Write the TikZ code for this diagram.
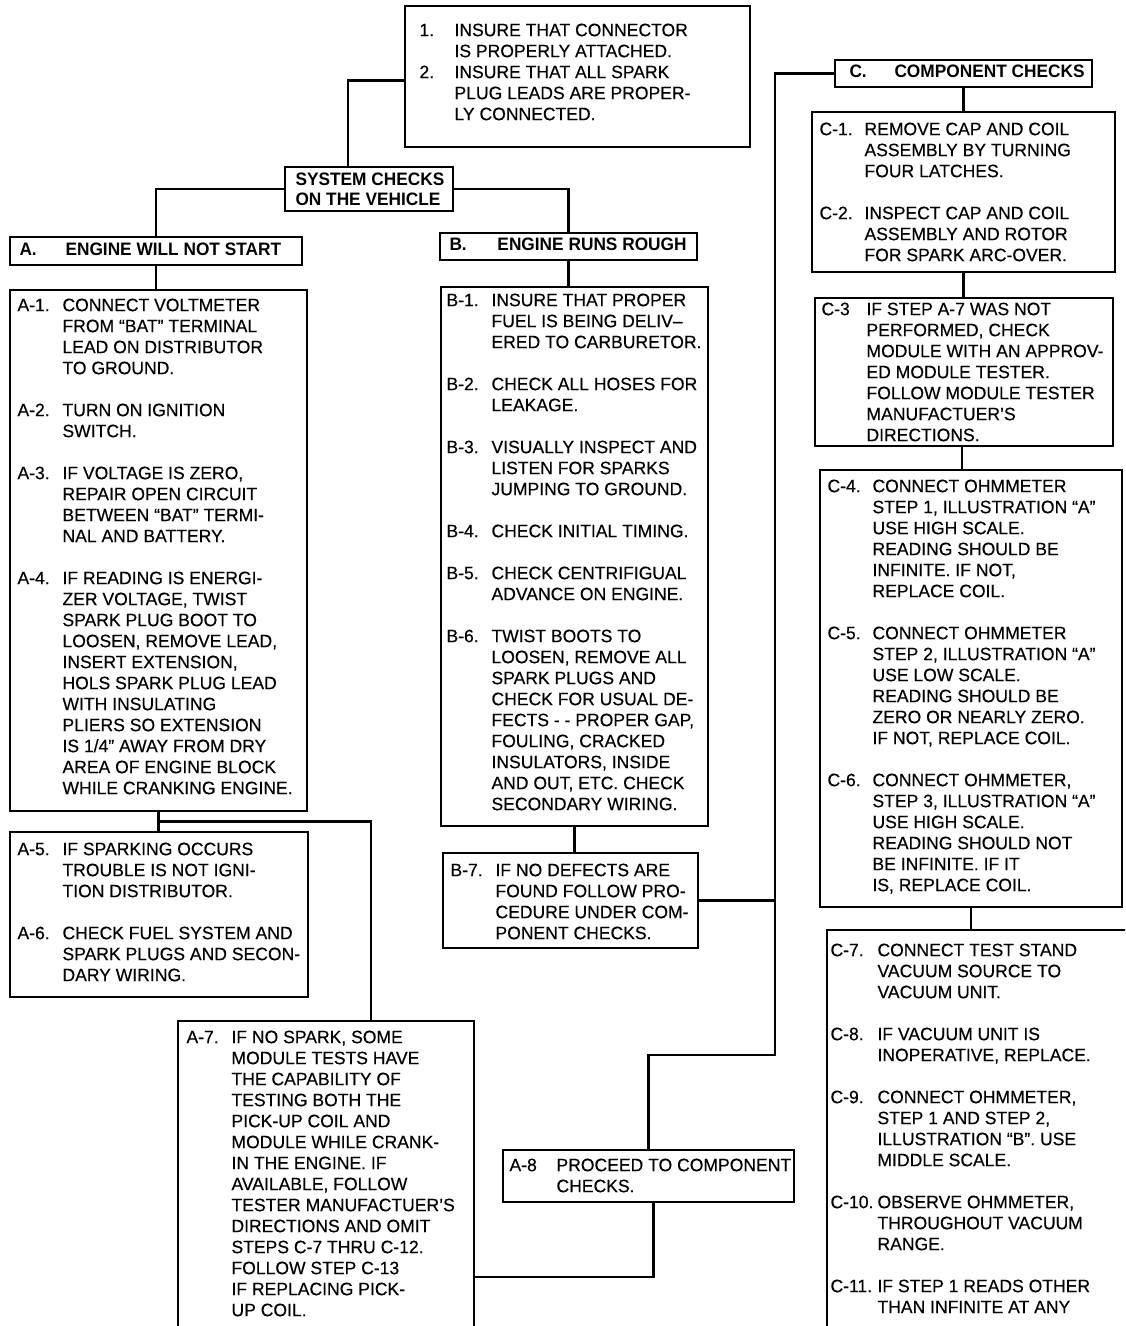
\documentclass[tikz,border=0pt]{standalone}
\usepackage{fontspec}
\setmainfont{Liberation Sans}[FakeStretch=0.975, FakeBold=0.35, BoldFeatures={FakeBold=0, FakeStretch=0.96}]
\usetikzlibrary{fit,calc}
\newcommand\steps[1]{\begin{tabular}{@{}p{22.5pt}@{}l@{}}#1\end{tabular}}
\newcommand\stepsn[1]{\begin{tabular}{@{}p{17.5pt}@{}l@{}}#1\end{tabular}}
\begin{document}
\begin{tikzpicture}[x=0.5pt,y=-0.5pt,
  box/.style={draw, line width=0.9pt, inner sep=0pt},
  wire/.style={line width=1.3pt},
  txt/.style={anchor=north west, inner sep=0pt, font=\fontsize{9}{10.5}\selectfont},
  hdr/.style={anchor=west, inner sep=0pt, font=\fontsize{9}{10.5}\selectfont\bfseries}]
\useasboundingbox (0,0) rectangle (1125,1326);
\clip (0,0) rectangle (1125,1326);
\fill[white] (0,0) rectangle (1125,1326);

% ---------- boxes ----------
\node[box, fit={(405,6) (750,147)}] (b1) {};
\node[box, fit={(285,167) (453,211)}] (sys) {};
\node[box, fit={(10,237) (302,265)}] (hA) {};
\node[box, fit={(440,233) (697,260)}] (hB) {};
\node[box, fit={(835,60) (1092,87)}] (hC) {};
\node[box, fit={(10,290) (307,811)}] (bA) {};
\node[box, fit={(10,832) (308,997)}] (bA5) {};
\node[box, fit={(178,1021) (474,1345)}] (bA7) {};
\node[box, fit={(503,1150) (794,1202)}] (bA8) {};
\node[box, fit={(441,287) (708,826)}] (bB) {};
\node[box, fit={(443,853) (698,948)}] (bB7) {};
\node[box, fit={(812,112) (1115,272)}] (bC1) {};
\node[box, fit={(815,298) (1113,446)}] (bC3) {};
\node[box, fit={(820,470) (1122,907)}] (bC4) {};
\node[box, fit={(827,930) (1140,1345)}] (bC7) {};

% ---------- texts ----------
\node[txt] (t1) at ([shift={(15,16)}]b1.north west) {\stepsn{%
1. & INSURE THAT CONNECTOR\\
   & IS PROPERLY ATTACHED.\\
2. & INSURE THAT ALL SPARK\\
   & PLUG LEADS ARE PROPER-\\
   & LY CONNECTED.}};

\node[anchor=west, inner sep=0pt, align=left, font=\fontsize{9}{10}\selectfont\bfseries]
  (tsys) at ([xshift=5.5pt]sys.west) {SYSTEM CHECKS\\ON THE VEHICLE};

\node[hdr] (thA) at ([xshift=5pt]hA.west) {\begin{tabular}{@{}p{23pt}@{}l@{}}A. & ENGINE WILL NOT START\end{tabular}};
\node[hdr] (thB) at ([xshift=5pt]hB.west) {\begin{tabular}{@{}p{24pt}@{}l@{}}B. & ENGINE RUNS ROUGH\end{tabular}};
\node[hdr] (thC) at ([xshift=7.5pt]hC.west) {\begin{tabular}{@{}p{22.5pt}@{}l@{}}C. & COMPONENT CHECKS\end{tabular}};

\node[txt] (tA) at ([shift={(8,7)}]bA.north west) {\steps{%
A-1. & CONNECT VOLTMETER\\
 & FROM “BAT” TERMINAL\\
 & LEAD ON DISTRIBUTOR\\
 & TO GROUND.\\[10.5pt]
A-2. & TURN ON IGNITION\\
 & SWITCH.\\[10.5pt]
A-3. & IF VOLTAGE IS ZERO,\\
 & REPAIR OPEN CIRCUIT\\
 & BETWEEN “BAT” TERMI-\\
 & NAL AND BATTERY.\\[10.5pt]
A-4. & IF READING IS ENERGI-\\
 & ZER VOLTAGE, TWIST\\
 & SPARK PLUG BOOT TO\\
 & LOOSEN, REMOVE LEAD,\\
 & INSERT EXTENSION,\\
 & HOLS SPARK PLUG LEAD\\
 & WITH INSULATING\\
 & PLIERS SO EXTENSION\\
 & IS 1/4” AWAY FROM DRY\\
 & AREA OF ENGINE BLOCK\\
 & WHILE CRANKING ENGINE.}};

\node[txt] (tA5) at ([shift={(8,9)}]bA5.north west) {\steps{%
A-5. & IF SPARKING OCCURS\\
 & TROUBLE IS NOT IGNI-\\
 & TION DISTRIBUTOR.\\[10.5pt]
A-6. & CHECK FUEL SYSTEM AND\\
 & SPARK PLUGS AND SECON-\\
 & DARY WIRING.}};

\node[txt] (tA7) at ([shift={(9,8)}]bA7.north west) {\steps{%
A-7. & IF NO SPARK, SOME\\
 & MODULE TESTS HAVE\\
 & THE CAPABILITY OF\\
 & TESTING BOTH THE\\
 & PICK-UP COIL AND\\
 & MODULE WHILE CRANK-\\
 & IN THE ENGINE. IF\\
 & AVAILABLE, FOLLOW\\
 & TESTER MANUFACTUER’S\\
 & DIRECTIONS AND OMIT\\
 & STEPS C-7 THRU C-12.\\
 & FOLLOW STEP C-13\\
 & IF REPLACING PICK-\\
 & UP COIL.}};

\node[txt] (tA8) at ([shift={(7,7)}]bA8.north west) {\begin{tabular}{@{}p{23.5pt}@{}l@{}}%
A-8 & PROCEED TO COMPONENT\\
 & CHECKS.\end{tabular}};

\node[txt] (tB) at ([shift={(6,5)}]bB.north west) {\steps{%
B-1. & INSURE THAT PROPER\\
 & FUEL IS BEING DELIV–\\
 & ERED TO CARBURETOR.\\[10.5pt]
B-2. & CHECK ALL HOSES FOR\\
 & LEAKAGE.\\[10.5pt]
B-3. & VISUALLY INSPECT AND\\
 & LISTEN FOR SPARKS\\
 & JUMPING TO GROUND.\\[10.5pt]
B-4. & CHECK INITIAL TIMING.\\[10.5pt]
B-5. & CHECK CENTRIFIGUAL\\
 & ADVANCE ON ENGINE.\\[10.5pt]
B-6. & TWIST BOOTS TO\\
 & LOOSEN, REMOVE ALL\\
 & SPARK PLUGS AND\\
 & CHECK FOR USUAL DE-\\
 & FECTS - - PROPER GAP,\\
 & FOULING, CRACKED\\
 & INSULATORS, INSIDE\\
 & AND OUT, ETC. CHECK\\
 & SECONDARY WIRING.}};

\node[txt] (tB7) at ([shift={(8,9)}]bB7.north west) {\steps{%
B-7. & IF NO DEFECTS ARE\\
 & FOUND FOLLOW PRO-\\
 & CEDURE UNDER COM-\\
 & PONENT CHECKS.}};

\node[txt] (tC1) at ([shift={(8,9)}]bC1.north west) {\steps{%
C-1. & REMOVE CAP AND COIL\\
 & ASSEMBLY BY TURNING\\
 & FOUR LATCHES.\\[10.5pt]
C-2. & INSPECT CAP AND COIL\\
 & ASSEMBLY AND ROTOR\\
 & FOR SPARK ARC-OVER.}};

\node[txt] (tC3) at ([shift={(7,3)}]bC3.north west) {\steps{%
C-3 & IF STEP A-7 WAS NOT\\
 & PERFORMED, CHECK\\
 & MODULE WITH AN APPROV-\\
 & ED MODULE TESTER.\\
 & FOLLOW MODULE TESTER\\
 & MANUFACTUER’S\\
 & DIRECTIONS.}};

\node[txt] (tC4) at ([shift={(8,8)}]bC4.north west) {\steps{%
C-4. & CONNECT OHMMETER\\
 & STEP 1, ILLUSTRATION “A”\\
 & USE HIGH SCALE.\\
 & READING SHOULD BE\\
 & INFINITE. IF NOT,\\
 & REPLACE COIL.\\[10.5pt]
C-5. & CONNECT OHMMETER\\
 & STEP 2, ILLUSTRATION “A”\\
 & USE LOW SCALE.\\
 & READING SHOULD BE\\
 & ZERO OR NEARLY ZERO.\\
 & IF NOT, REPLACE COIL.\\[10.5pt]
C-6. & CONNECT OHMMETER,\\
 & STEP 3, ILLUSTRATION “A”\\
 & USE HIGH SCALE.\\
 & READING SHOULD NOT\\
 & BE INFINITE. IF IT\\
 & IS, REPLACE COIL.}};

\node[txt] (tC7) at ([shift={(4,12)}]bC7.north west) {\begin{tabular}{@{}p{23.5pt}@{}l@{}}%
C-7. & CONNECT TEST STAND\\
 & VACUUM SOURCE TO\\
 & VACUUM UNIT.\\[10.5pt]
C-8. & IF VACUUM UNIT IS\\
 & INOPERATIVE, REPLACE.\\[10.5pt]
C-9. & CONNECT OHMMETER,\\
 & STEP 1 AND STEP 2,\\
 & ILLUSTRATION “B”. USE\\
 & MIDDLE SCALE.\\[10.5pt]
C-10. & OBSERVE OHMMETER,\\
 & THROUGHOUT VACUUM\\
 & RANGE.\\[10.5pt]
C-11. & IF STEP 1 READS OTHER\\
 & THAN INFINITE AT ANY\end{tabular}};

% ---------- connectors ----------
\draw[wire] ([yshift=-2pt]b1.west) -| ([xshift=-10.5pt]sys.north);
\draw[wire] (sys.west) -| (hA.north);
\draw[wire] (sys.east) -| (hB.north);
\draw[wire] (hA.south) -- (hA.south |- bA.north);
\draw[wire] (bA.south) -- (bA.south |- bA5.north);
\coordinate (j1) at ($(bA.south)!0.5!(bA.south |- bA5.north)$);
\draw[wire] (j1) -| ([xshift=22.5pt]bA7.north);
\draw[wire] (hB.south) -- (hB.south |- bB.north);
\draw[wire] (bB.south) -- (bB.south |- bB7.north);
\coordinate (k1) at (775,1055);
\draw[wire] (hC.west) -| (k1) -| (bA8.north);
\draw[wire] (bB7.east) -- (bB7.east -| k1);
\coordinate (k2) at (474,1277);
\draw[wire] ([xshift=2.5pt]bA8.south) |- (k2);
\draw[wire] (hC.south) -- (hC.south |- bC1.north);
\draw[wire] (bC1.south) -- (bC1.south |- bC3.north);
\draw[wire] ([xshift=-1pt]bC3.south) -- ([xshift=-1pt]bC3.south |- bC4.north);
\draw[wire] (bC4.south) -- (bC4.south |- bC7.north);
\end{tikzpicture}
\end{document}
